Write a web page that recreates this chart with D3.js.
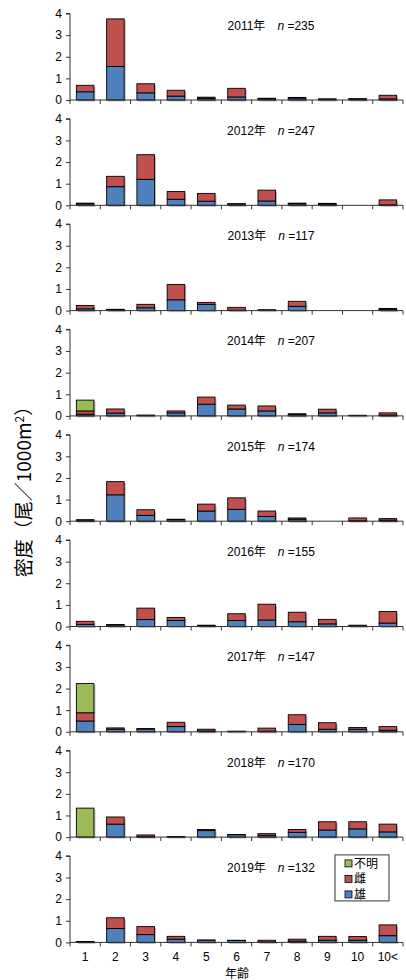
<!DOCTYPE html>
<html>
<head>
<meta charset="utf-8">
<script src="https://cdn.jsdelivr.net/npm/d3@7"></script>
<style>
  body { margin: 0; background: #fff; }
  svg { display: block; }
  .tick text { font-family: "Liberation Sans", Arial, sans-serif; }
</style>
</head>
<body>
<svg id="chart" width="406" height="980"></svg>
<script>
const ages = ["1", "2", "3", "4", "5", "6", "7", "8", "9", "10", "10<"];
const years = [2011, 2012, 2013, 2014, 2015, 2016, 2017, 2018, 2019];
const counts = [235, 247, 117, 207, 174, 155, 147, 170, 132];
const yTicks = [0, 1, 2, 3, 4];

// 雄 (male), per year, per age class
const male = [
  [0.38, 1.55, 0.33, 0.18, 0.08, 0.14, 0.06, 0.09, 0.04, 0.05, 0.05],
  [0.07, 0.86, 1.20, 0.28, 0.19, 0.02, 0.20, 0.07, 0.06, 0, 0.02],
  [0.08, 0.04, 0.13, 0.50, 0.29, 0.02, 0.02, 0.20, 0, 0, 0.06],
  [0.08, 0.13, 0.02, 0.14, 0.54, 0.32, 0.23, 0.07, 0.14, 0.02, 0.04],
  [0, 1.22, 0.27, 0.07, 0.47, 0.55, 0.22, 0.09, 0, 0.02, 0.05],
  [0.10, 0.07, 0.32, 0.28, 0.04, 0.28, 0.30, 0.22, 0.12, 0.01, 0.16],
  [0.50, 0.12, 0.13, 0.24, 0.04, 0.01, 0.03, 0.34, 0.12, 0.12, 0.07],
  [0, 0.60, 0.02, 0.01, 0.30, 0.11, 0.08, 0.22, 0.33, 0.38, 0.24],
  [0.02, 0.64, 0.36, 0.15, 0.10, 0.09, 0.02, 0.06, 0.10, 0.10, 0.31]
];
// 雌 (female)
const female = [
  [0.30, 2.20, 0.42, 0.27, 0.05, 0.40, 0.02, 0.03, 0.01, 0.01, 0.17],
  [0.03, 0.48, 1.14, 0.36, 0.36, 0.06, 0.50, 0.03, 0.03, 0, 0.23],
  [0.16, 0.02, 0.16, 0.71, 0.09, 0.13, 0.02, 0.23, 0, 0, 0.04],
  [0.15, 0.19, 0.02, 0.09, 0.33, 0.18, 0.23, 0.03, 0.17, 0.01, 0.10],
  [0.05, 0.61, 0.26, 0.02, 0.32, 0.53, 0.25, 0.06, 0, 0.13, 0.07],
  [0.14, 0.02, 0.53, 0.14, 0.02, 0.31, 0.73, 0.44, 0.21, 0.05, 0.53],
  [0.38, 0.06, 0.02, 0.20, 0.08, 0.02, 0.14, 0.45, 0.30, 0.08, 0.17],
  [0, 0.33, 0.08, 0.02, 0.05, 0.01, 0.08, 0.13, 0.38, 0.33, 0.36],
  [0.01, 0.50, 0.37, 0.13, 0.01, 0.01, 0.08, 0.09, 0.18, 0.17, 0.50]
];
// 不明 (unknown)
const unknown = [
  [0, 0, 0, 0, 0, 0, 0, 0, 0, 0, 0],
  [0, 0, 0, 0, 0, 0, 0, 0, 0, 0, 0],
  [0, 0, 0, 0, 0, 0, 0, 0, 0, 0, 0],
  [0.50, 0, 0, 0, 0, 0, 0, 0, 0, 0, 0],
  [0.02, 0, 0, 0, 0, 0, 0, 0, 0, 0, 0],
  [0, 0, 0, 0, 0, 0, 0, 0, 0, 0, 0],
  [1.35, 0, 0, 0, 0, 0, 0, 0, 0, 0, 0],
  [1.34, 0, 0, 0, 0, 0, 0, 0, 0, 0, 0],
  [0.01, 0, 0, 0, 0, 0, 0, 0, 0, 0, 0]
];

const keys = ["male", "female", "unknown"];
const colors = { male: "#4F81BD", female: "#C0504D", unknown: "#9BBB59" };
const legendItems = [["unknown", "不明"], ["female", "雌"], ["male", "雄"]];

const svg = d3.select("#chart");
const latin = "'Liberation Sans', Arial, sans-serif";
const cjk = "'Noto Sans CJK JP', sans-serif";

const left = 70, right = 403;
const panelTop0 = 13.5, panelStep = 105.3, panelH = 86.5;

const x = d3.scaleBand().domain(ages).range([left, right]).paddingInner(0.42).paddingOuter(0.21);
const xEdge = d3.scaleLinear().domain([0, ages.length]).range([left, right]);
const stack = d3.stack().keys(keys);

years.forEach((yr, i) => {
  const top = panelTop0 + i * panelStep;
  const y = d3.scaleLinear().domain([0, 4]).range([top + panelH, top]);
  const g = svg.append("g");

  const rows = ages.map((a, j) => ({
    age: a, male: male[i][j], female: female[i][j], unknown: unknown[i][j]
  }));
  const series = stack(rows);

  // shadow behind each full bar
  g.append("g").selectAll("rect").data(rows.filter(d => d.male + d.female + d.unknown > 0))
    .join("rect")
    .attr("x", d => x(d.age) + 1.5)
    .attr("y", d => y(d.male + d.female + d.unknown) + 1.5)
    .attr("width", x.bandwidth())
    .attr("height", d => y(0) - y(d.male + d.female + d.unknown))
    .attr("fill", "#bbb");

  g.append("g").selectAll("g").data(series).join("g")
    .attr("fill", s => colors[s.key])
    .selectAll("rect").data(s => s.filter(d => d[1] - d[0] > 0))
    .join("rect")
    .attr("x", d => x(d.data.age))
    .attr("y", d => y(d[1]))
    .attr("width", x.bandwidth())
    .attr("height", d => y(d[0]) - y(d[1]))
    .attr("stroke", "#000")
    .attr("stroke-width", 0.9);

  // y axis
  const ya = g.append("g").attr("transform", `translate(${left},0)`)
    .call(d3.axisLeft(y).tickValues(yTicks).tickSize(4).tickPadding(4).tickFormat(d3.format("d")));
  ya.select(".domain").attr("stroke", "#333").attr("d", `M-4,${y(4)}H0V${y(0)}`);
  ya.selectAll(".tick line").attr("stroke", "#333");
  ya.selectAll(".tick text").attr("font-size", 12).attr("fill", "#000");

  // x axis with boundary ticks
  const xa = g.append("g").attr("transform", `translate(0,${y(0)})`);
  xa.append("line").attr("x1", left).attr("x2", right).attr("stroke", "#333");
  xa.selectAll("line.b").data(d3.range(ages.length + 1)).join("line")
    .attr("class", "b")
    .attr("x1", d => xEdge(d)).attr("x2", d => xEdge(d))
    .attr("y1", 0).attr("y2", 4).attr("stroke", "#333");

  // title
  const t = g.append("text")
    .attr("x", 271).attr("y", top + 16)
    .attr("text-anchor", "middle")
    .attr("font-size", 12).attr("font-family", latin);
  t.append("tspan").text(yr);
  t.append("tspan").attr("font-family", cjk).text("年　");
  t.append("tspan").attr("font-style", "italic").text("n");
  t.append("tspan").text(" =" + counts[i]);

  if (i === years.length - 1) {
    svg.append("g").selectAll("text").data(ages).join("text")
      .attr("x", d => x(d) + x.bandwidth() / 2)
      .attr("y", y(0) + 19)
      .attr("text-anchor", "middle")
      .attr("font-size", 12).attr("font-family", latin)
      .text(d => d);

    // legend
    const lg = svg.append("g").attr("transform", `translate(335,${top - 1})`);
    lg.append("rect").attr("width", 54).attr("height", 46)
      .attr("fill", "#fff").attr("stroke", "#333");
    legendItems.forEach(([k, label], r) => {
      const cy = 8.5 + r * 15.5;
      lg.append("rect").attr("x", 10).attr("y", cy - 3.5).attr("width", 7).attr("height", 7)
        .attr("fill", colors[k]).attr("stroke", "#000").attr("stroke-width", 0.8);
      lg.append("text").attr("x", 19).attr("y", cy + 4.5)
        .attr("font-size", 12).attr("font-family", cjk).text(label);
    });
  }
});

svg.append("text")
  .attr("x", 237).attr("y", 978)
  .attr("text-anchor", "middle")
  .attr("font-size", 12).attr("font-family", cjk)
  .text("年齢");

const yl = svg.append("text")
  .attr("transform", "translate(31,487) rotate(-90)")
  .attr("text-anchor", "middle")
  .attr("font-size", 19).attr("font-family", cjk);
yl.append("tspan").text("密度（尾／1000m");
yl.append("tspan").attr("font-size", 12).attr("dy", -7).text("2");
yl.append("tspan").attr("dy", 7).text("）");
</script>
</body>
</html>
